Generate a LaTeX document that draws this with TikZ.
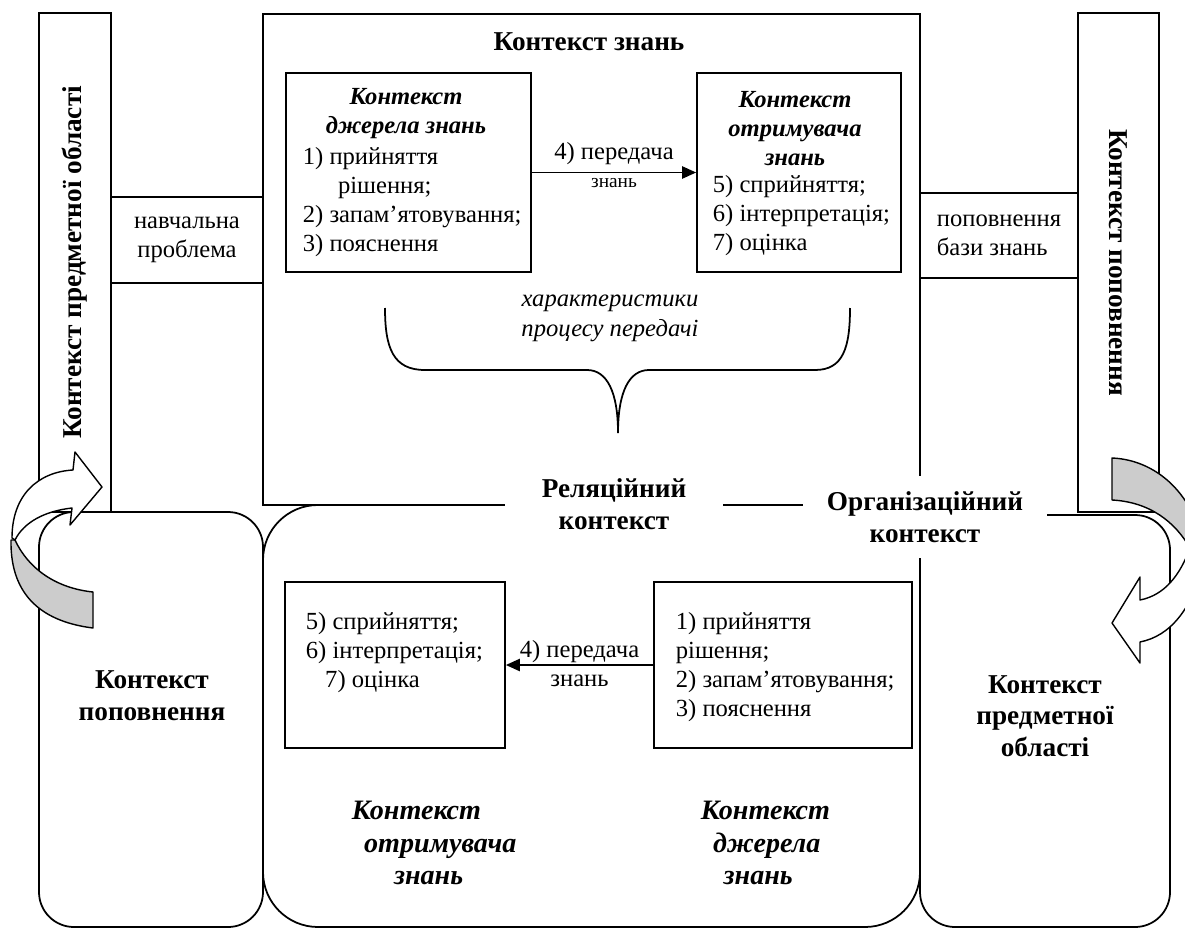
\documentclass[tikz,border=0pt]{standalone}
\usepackage{fontspec}
\setmainfont{Liberation Serif}
\usetikzlibrary{arrows.meta,fit}

\begin{document}
\begin{tikzpicture}[
    x=0.02cm, y=-0.02cm,
    line width=1pt,
    lbl/.style={font=\fontsize{14}{16.5}\selectfont, align=left, inner sep=0pt},
    hdr/.style={font=\fontsize{15.5}{18}\selectfont\bfseries, align=center, inner sep=0pt},
    hdri/.style={font=\fontsize{14}{16.5}\selectfont\bfseries\itshape, align=center, inner sep=0pt},
    hdrb/.style={font=\fontsize{16}{18.5}\selectfont\bfseries\itshape, align=left, inner sep=0pt},
    frame/.style={draw, inner sep=0pt},
    gap/.style={hdr, fill=white, inner xsep=0.5cm, inner ysep=0.32cm},
    arr/.style={-{Triangle[length=8pt,width=7pt]}},
    ribbon/.style={draw, line width=0.8pt, line join=round}
]

\useasboundingbox (0,0) rectangle (1185,929);

\node[frame, rounded corners=0.7cm, fit={(39,512) (263,927)}] (replL) {};
\node[frame, rounded corners=1.1cm, fit={(263,505) (920,927)}] (relat) {};
\node[frame, rounded corners=0.7cm, fit={(920,515) (1170,927)}] (domR) {};
\node[frame, fit={(263,14) (920,505)}] (know) {};
\node[frame, fit={(39,13) (111,512)}] (domL) {};
\node[frame, fit={(1078,13) (1159,512)}] (replR) {};
\node[frame, fit={(111,197) (263,283)}] (learn) {};
\node[frame, fit={(920,193) (1078,278)}] (kbase) {};

\node[hdr, rotate=90] (domLtxt) at (domL.center) {Контекст предметної області};
\node[hdr, rotate=-90] (replRtxt) at (replR.center) {Контекст поповнення};
\node[lbl, align=center] (learntxt) at (learn.center) {навчальна\\проблема};
\node[lbl] (kbasetxt) at (kbase.center) {поповнення\\бази знань};
\node[hdr] (knowttl) at (589,42) {Контекст знань};

\node[frame, fit={(286,73) (531,272)}] (srcTop) {};
\node[frame, fit={(697,73) (901,272)}] (rcvTop) {};
\node[hdri] (srcTopH) at (406,114) {Контекст\\джерела знань};
\node[lbl, anchor=west] (srcTopL) at (302,202) {1) прийняття\\\hspace*{20pt}рішення;\\2) запам’ятовування;\\3) пояснення};
\node[hdri] (rcvTopH) at (795,129) {Контекст\\отримувача\\знань};
\node[lbl, anchor=west] (rcvTopL) at (712,216) {5) сприйняття;\\6) інтерпретація;\\7) оцінка};
\draw[arr] (srcTop) -- node[lbl, above=4pt] (passTop) {4) передача}
    node[font=\fontsize{11}{13}\selectfont, below=3pt, inner sep=0pt] (passTopK) {знань} (rcvTop);

\draw (385,308) .. controls (385,348) and (393,370) .. (425,370) -- (587,370)
    .. controls (607,370) and (618,392) .. (618,433)
    .. controls (618,392) and (629,370) .. (649,370) -- (815,370)
    .. controls (843,370) and (850,348) .. (850,308);
\node[lbl, align=center, font=\fontsize{14}{17}\selectfont\itshape] (traits) at (610,318) {характеристики\\процесу передачі};

\node[frame, fit={(285,582) (505,748)}] (rcvBot) {};
\node[frame, fit={(654,582) (912,748)}] (srcBot) {};
\node[lbl, anchor=west] (rcvBotL) at (305,653) {5) сприйняття;\\6) інтерпретація;\\\hspace*{11pt}7) оцінка};
\node[lbl, anchor=west] (srcBotL) at (675,667) {1) прийняття\\рішення;\\2) запам’ятовування;\\3) пояснення};
\draw[arr] (srcBot) -- node[lbl, above=1pt] (passBot) {4) передача}
    node[lbl, below=5pt] (passBotK) {знань} (rcvBot);
\node[hdrb, anchor=west] (rcvBotH) at (351,843) {Контекст\\\hspace*{7pt}отримувача\\\hspace*{24pt}знань};
\node[hdrb, anchor=west] (srcBotH) at (700,843) {Контекст\\\hspace*{7pt}джерела\\\hspace*{13pt}знань};
\node[hdr] (replLtxt) at (152,696) {Контекст\\поповнення};
\node[hdr] (domRtxt) at (1045,716) {Контекст\\предметної\\області};

\node[gap, inner xsep=0.74cm] (relTxt) at (614,504) {Реляційний\\контекст};
\node[gap, inner xsep=0.47cm] (orgTxt) at (925,517) {Організаційний\\контекст};

\draw[ribbon, fill=black!20] (15,540) .. controls (28,568) and (55,588) .. (93,592) -- (93,628)
    .. controls (45,622) and (10,598) .. (11,540) -- cycle;
\draw[ribbon, fill=white] (12,538) .. controls (12,495) and (38,472) .. (73,470) -- (75,452) -- (102,487)
    -- (70,525) -- (72,508) .. controls (45,511) and (24,522) .. (15,540) -- cycle;
\draw[ribbon, fill=black!20] (1112,458) .. controls (1160,460) and (1200,500) .. (1205,560) -- (1190,548)
    .. controls (1175,522) and (1150,502) .. (1112,500) -- cycle;
\draw[ribbon, fill=white] (1190,548) .. controls (1180,575) and (1165,595) .. (1140,600) -- (1140,577)
    -- (1112,623) -- (1140,663) -- (1140,642) .. controls (1170,636) and (1192,610) .. (1205,560) -- cycle;

\end{tikzpicture}
\end{document}
